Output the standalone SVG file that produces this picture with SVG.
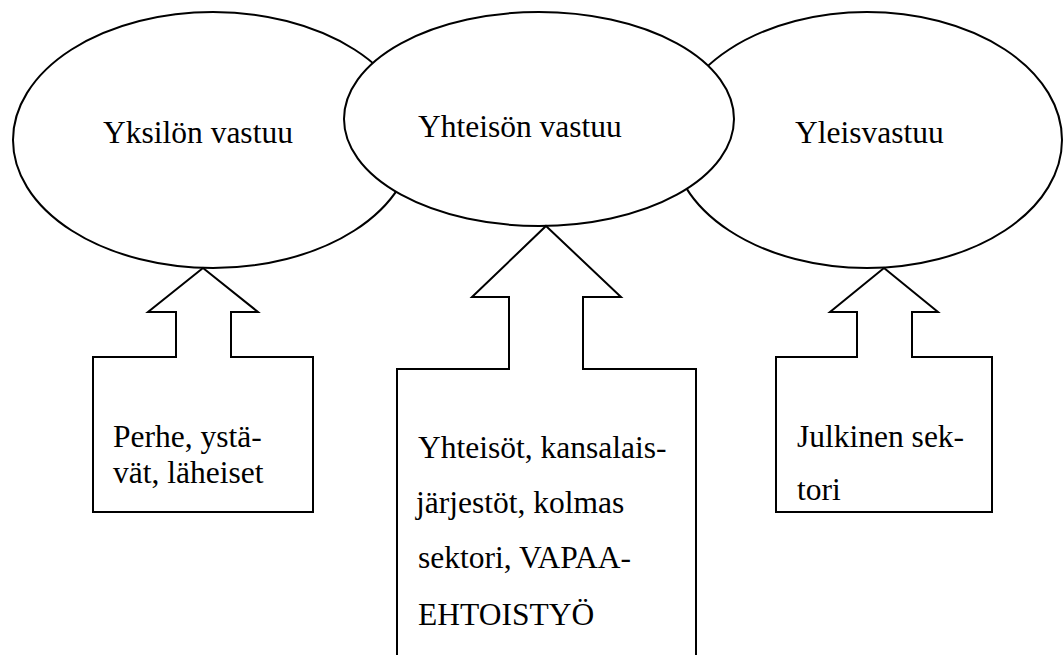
<svg xmlns="http://www.w3.org/2000/svg" width="1063" height="655" viewBox="0 0 1063 655">
<style>
.shape{fill:#fff;stroke:#000;stroke-width:2}
text{font-family:'Liberation Serif','Times New Roman',Times,'DejaVu Serif',serif;font-size:31.5px;fill:#000}
</style>
<rect width="1063" height="655" fill="#fff"/>
<g id="ellipse-yksilo"><ellipse class="shape" cx="213" cy="140" rx="200" ry="128"/><text x="103" y="143" font-family="Liberation Serif, serif">Yksilön vastuu</text></g>
<g id="ellipse-yleis"><ellipse class="shape" cx="867" cy="140" rx="195" ry="128"/><text x="795" y="143" font-family="Liberation Serif, serif">Yleisvastuu</text></g>
<g id="ellipse-yhteiso"><ellipse class="shape" cx="539" cy="119" rx="195" ry="107"/><text x="418" y="137" font-family="Liberation Serif, serif">Yhteisön vastuu</text></g>
<g id="connectors">
<path class="shape" d="M203,268 L258,312 L231,312 L231,357 L313,357 L313,512 L93,512 L93,357 L176,357 L176,312 L148,312 Z"/>
<path class="shape" d="M546,226 L621,297 L583,297 L583,369 L696,369 L696,660 L397,660 L397,369 L509,369 L509,297 L472,297 Z"/>
<path class="shape" d="M884,268 L938,312 L912,312 L912,357 L992,357 L992,512 L776,512 L776,357 L857,357 L857,312 L830,312 Z"/>
</g>
<g id="box-perhe" font-family="Liberation Serif, serif"><text x="113" y="447">Perhe, ystä-</text><text x="113" y="483">vät, läheiset</text></g>
<g id="box-yhteisot" font-family="Liberation Serif, serif"><text x="418" y="458">Yhteisöt, kansalais-</text><text x="416" y="513">järjestöt, kolmas</text><text x="418" y="568">sektori, VAPAA-</text><text x="418" y="625">EHTOISTYÖ</text></g>
<g id="box-julkinen" font-family="Liberation Serif, serif"><text x="797" y="447">Julkinen sek-</text><text x="797" y="500">tori</text></g>
</svg>
